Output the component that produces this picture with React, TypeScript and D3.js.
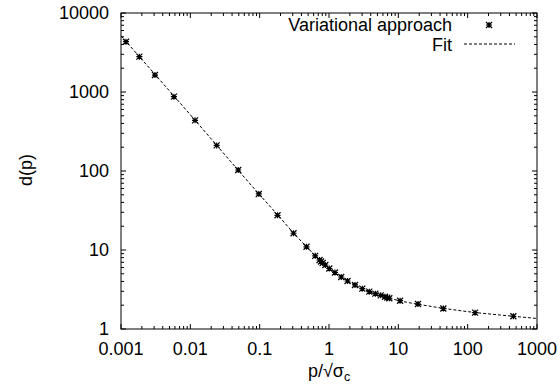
import React from "react";
import * as d3 from "d3";

// Data points
const pData = [0.00118, 0.00184, 0.00309, 0.0058, 0.0117, 0.024, 0.049, 0.0972, 0.181, 0.308, 0.474, 0.632, 0.73, 0.767, 0.811, 0.885, 1.01, 1.22, 1.5, 1.85, 2.37, 3.02, 3.81, 4.66, 5.57, 6.43, 6.93, 7.41, 10.6, 19.2, 44.6, 128, 456];
const dData = [4330, 2800, 1640, 873, 438, 211, 103, 51.2, 27.5, 16.3, 10.98, 8.44, 7.47, 7.15, 6.85, 6.46, 5.83, 5.19, 4.55, 4.05, 3.61, 3.24, 2.97, 2.8, 2.67, 2.56, 2.49, 2.45, 2.28, 2.07, 1.82, 1.61, 1.45];

// Fit curve
const fitP = [0.001, 0.01, 0.1, 0.2, 0.3, 0.5, 0.7, 1, 1.5, 2, 3, 5, 10, 30, 100, 300, 1000];
const fitD = [5150, 515, 50, 25.3, 16.8, 10.5, 7.7, 5.85, 4.55, 3.9, 3.25, 2.72, 2.3, 1.93, 1.66, 1.5, 1.36];

const xTicks = [0.001, 0.01, 0.1, 1, 10, 100, 1000];
const xTickLabels = ["0.001", "0.01", "0.1", "1", "10", "100", "1000"];
const yTicks = [1, 10, 100, 1000, 10000];
const yTickLabels = ["1", "10", "100", "1000", "10000"];

const W = 560, H = 391;
const L = 121, R = 537, T = 13, B = 329;
const FONT = "'Liberation Sans', Arial, Helvetica, sans-serif";
const FS = 18;

function Star({ cx, cy, s = 3 }: { cx: number; cy: number; s?: number }) {
  const d = `M${cx - s},${cy}L${cx + s},${cy}M${cx},${cy - s}L${cx},${cy + s}M${cx - s},${cy - s}L${cx + s},${cy + s}M${cx - s},${cy + s}L${cx + s},${cy - s}`;
  return <path d={d} stroke="#000" strokeWidth={1.2} fill="none" />;
}

export default function App() {
  const x = d3.scaleLog().domain([0.001, 1000]).range([L, R]);
  const y = d3.scaleLog().domain([1, 10000]).range([B, T]);

  const minorX: number[] = [];
  for (let e = -3; e < 3; e++) for (let k = 2; k <= 9; k++) minorX.push(k * Math.pow(10, e));
  const minorY: number[] = [];
  for (let e = 0; e < 4; e++) for (let k = 2; k <= 9; k++) minorY.push(k * Math.pow(10, e));

  const fitPts: [number, number][] = fitP.map((p, i) => [x(p), y(fitD[i])]);
  const line = d3.line().curve(d3.curveMonotoneX)(fitPts) || "";

  const maj = 5, mnr = 3;

  return (
    <svg width={W} height={H} style={{ position: "absolute", left: 0, top: 0, background: "#fff" }} fontFamily={FONT}>
      <rect x={0} y={0} width={W} height={H} fill="#fff" />
      {/* ticks */}
      <g stroke="#000" strokeWidth={1}>
        {xTicks.map((t, i) => (
          <g key={"xt" + i}>
            <line x1={x(t)} x2={x(t)} y1={B} y2={B - maj} />
            <line x1={x(t)} x2={x(t)} y1={T} y2={T + maj} />
          </g>
        ))}
        {minorX.map((t, i) => (
          <g key={"xm" + i}>
            <line x1={x(t)} x2={x(t)} y1={B} y2={B - mnr} />
            <line x1={x(t)} x2={x(t)} y1={T} y2={T + mnr} />
          </g>
        ))}
        {yTicks.map((t, i) => (
          <g key={"yt" + i}>
            <line x1={L} x2={L + maj} y1={y(t)} y2={y(t)} />
            <line x1={R} x2={R - maj} y1={y(t)} y2={y(t)} />
          </g>
        ))}
        {minorY.map((t, i) => (
          <g key={"ym" + i}>
            <line x1={L} x2={L + mnr} y1={y(t)} y2={y(t)} />
            <line x1={R} x2={R - mnr} y1={y(t)} y2={y(t)} />
          </g>
        ))}
      </g>
      {/* fit line */}
      <path d={line} fill="none" stroke="#000" strokeWidth={1} strokeDasharray="3,2" />
      {/* points */}
      {pData.map((p, i) => (
        <Star key={"p" + i} cx={x(p)} cy={y(dData[i])} />
      ))}
      {/* frame */}
      <rect x={L} y={T} width={R - L} height={B - T} fill="none" stroke="#000" strokeWidth={1} />
      {/* tick labels */}
      <g fontSize={FS} fill="#000">
        {xTicks.map((t, i) => (
          <text key={"xl" + i} x={x(t)} y={355} textAnchor="middle">{xTickLabels[i]}</text>
        ))}
        {yTicks.map((t, i) => (
          <text key={"yl" + i} x={109} y={y(t)} dy="0.35em" textAnchor="end">{yTickLabels[i]}</text>
        ))}
      </g>
      {/* axis titles */}
      <text x={329} y={376.5} fontSize={FS} textAnchor="middle">
        p/√σ<tspan fontSize={12.5} dy={4}>c</tspan>
      </text>
      <text transform="translate(32,170) rotate(-90)" fontSize={FS} textAnchor="middle">d(p)</text>
      {/* legend */}
      <text x={452} y={31} fontSize={FS} textAnchor="end">Variational approach</text>
      <Star cx={489} cy={25} />
      <text x={452} y={50.7} fontSize={FS} textAnchor="end">Fit</text>
      <line x1={464} x2={515} y1={44} y2={44} stroke="#000" strokeWidth={1} strokeDasharray="3,2" />
    </svg>
  );
}
